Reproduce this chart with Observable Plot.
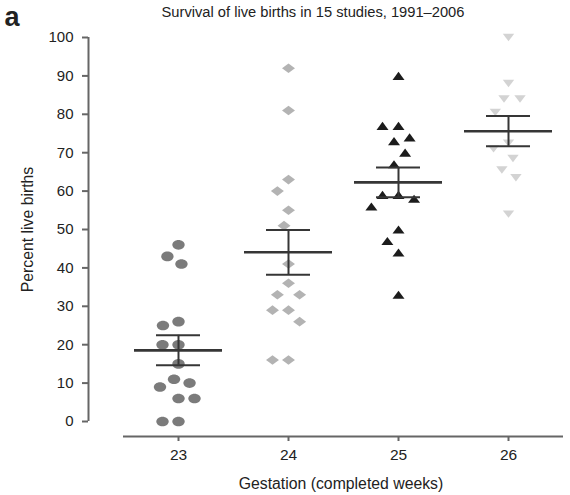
<!DOCTYPE html>
<html>
<head>
<meta charset="utf-8">
<script src="https://cdn.jsdelivr.net/npm/d3@7"></script>
<script src="https://cdn.jsdelivr.net/npm/@observablehq/plot@0.6"></script>
<style>
  body { margin: 0; background: #fff; font-family: "Liberation Sans", Arial, Helvetica, sans-serif; }
</style>
</head>
<body>
<div id="chart"></div>
<script>
// ---- data ----
const weeks = [23, 24, 25, 26];
const week23 = [46, 43, 41, 26, 25, 20, 20, 15, 11, 10, 9, 6, 6, 0, 0];
const week24 = [92, 81, 63, 60, 55, 51, 41, 36, 33, 33, 29, 29, 26, 16, 16];
const week25 = [90, 77, 77, 74, 73, 70, 67, 59, 59, 58, 56, 50, 47, 44, 33];
const week26 = [100, 88, 84, 84, 80.5, 72.5, 71, 68.5, 65.5, 63.5, 54];
const yTicks = [0, 10, 20, 30, 40, 50, 60, 70, 80, 90, 100];
const yDomain = [0, 100];
const xInner = [-1, 1];
const panelLetter = "a";
const titleText = "Survival of live births in 15 studies, 1991\u20132006";
const xLabel = "Gestation (completed weeks)";
const yLabel = "Percent live births";

const series = [week23, week24, week25, week26];
const colors = ["#7b7b7b", "#b3b3b3", "#1c1c1c", "#d3d3d3"];

// ---- custom symbols (drawn relative to r) ----
const K = 0.5523;
const ellipse = {draw(ctx, size) {
  const r = Math.sqrt(size / Math.PI), a = r * 1.03, b = r * 0.8;
  ctx.moveTo(a, 0);
  ctx.bezierCurveTo(a, b * K, a * K, b, 0, b);
  ctx.bezierCurveTo(-a * K, b, -a, b * K, -a, 0);
  ctx.bezierCurveTo(-a, -b * K, -a * K, -b, 0, -b);
  ctx.bezierCurveTo(a * K, -b, a, -b * K, a, 0);
  ctx.closePath();
}};
const rhombus = {draw(ctx, size) {
  const r = Math.sqrt(size / Math.PI), a = r * 1.08, b = r * 0.8;
  ctx.moveTo(a, 0); ctx.lineTo(0, b); ctx.lineTo(-a, 0); ctx.lineTo(0, -b); ctx.closePath();
}};
const triUp = {draw(ctx, size) {
  const r = Math.sqrt(size / Math.PI), a = r * 1.0, h = r * 0.68;
  ctx.moveTo(0, -h); ctx.lineTo(a, h); ctx.lineTo(-a, h); ctx.closePath();
}};
const triDown = {draw(ctx, size) {
  const r = Math.sqrt(size / Math.PI), a = r * 0.95, h = r * 0.62;
  ctx.moveTo(-a, -h); ctx.lineTo(a, -h); ctx.lineTo(0, h); ctx.closePath();
}};
const symbols = [ellipse, rhombus, triUp, triDown];

const points = weeks.map((w, i) => series[i].map(v => ({week: w, value: v})));
const stats = weeks.map((w, i) => {
  const vs = series[i];
  const m = d3.mean(vs);
  const se = d3.deviation(vs) / Math.sqrt(vs.length);
  return {week: w, mean: m, lo: m - se, hi: m + se};
});

const axisColor = "#666";
const barColor = "#363636";

const dotMarks = weeks.map((w, i) =>
  Plot.dotX(points[i], Plot.dodgeX({anchor: "middle", padding: 4}, {
    y: "value", fx: "week", r: 6, symbol: symbols[i], fill: colors[i], stroke: "none"
  }))
);

const chart = Plot.plot({
  width: 570,
  height: 495,
  marginLeft: 122,
  marginRight: 6,
  marginTop: 37,
  marginBottom: 74,
  fx: {domain: weeks, padding: 0},
  x: {domain: xInner, axis: null},
  y: {domain: yDomain},
  style: {fontFamily: '"Liberation Sans", Arial, Helvetica, sans-serif', fontSize: "15px", color: "#222", background: "#fff"},
  marks: [
    // y axis (offset to the left)
    Plot.ruleX([weeks[0]], {fx: d => d, x: () => xInner[0], y1: () => yDomain[0], y2: () => yDomain[1], dx: -35, stroke: axisColor, strokeWidth: 2}),
    Plot.axisY({ticks: yTicks, anchor: "left", dx: -35, tickSize: 6, tickPadding: 9, stroke: axisColor, strokeWidth: 2, fill: "#222", fontSize: 15, label: null}),
    // x axis (offset below)
    Plot.ruleY([yDomain[0]], {dy: 15, stroke: axisColor, strokeWidth: 2}),
    Plot.axisFx({anchor: "bottom", dy: 15, tickSize: 5, tickPadding: 7, stroke: axisColor, strokeWidth: 2, fill: "#222", fontSize: 15.5, label: null}),
    ...dotMarks,
    // mean ± SEM
    Plot.ruleY(stats, {fx: "week", y: "mean", x1: () => -0.8, x2: () => 0.8, stroke: barColor, strokeWidth: 2.6}),
    Plot.ruleY(stats, {fx: "week", y: "hi", x1: () => -0.4, x2: () => 0.4, stroke: barColor, strokeWidth: 2}),
    Plot.ruleY(stats, {fx: "week", y: "lo", x1: () => -0.4, x2: () => 0.4, stroke: barColor, strokeWidth: 2}),
    Plot.ruleX(stats, {fx: "week", x: () => 0, y1: "lo", y2: "hi", stroke: barColor, strokeWidth: 2})
  ]
});

const svg = d3.select(chart);
svg.append("text").attr("x", 12).attr("y", 26)
  .attr("font-size", 27).attr("font-weight", "bold").attr("fill", "#222").text(panelLetter);
svg.append("text").attr("x", 313).attr("y", 17).attr("text-anchor", "middle")
  .attr("font-size", 14.7).attr("fill", "#222").text(titleText);
svg.append("text").attr("transform", "translate(32.5,229.5) rotate(-90)").attr("text-anchor", "middle")
  .attr("font-size", 15.8).attr("fill", "#222").text(yLabel);
svg.append("text").attr("x", 341).attr("y", 489).attr("text-anchor", "middle")
  .attr("font-size", 15.8).attr("fill", "#222").text(xLabel);

document.getElementById("chart").appendChild(chart);
</script>
</body>
</html>
